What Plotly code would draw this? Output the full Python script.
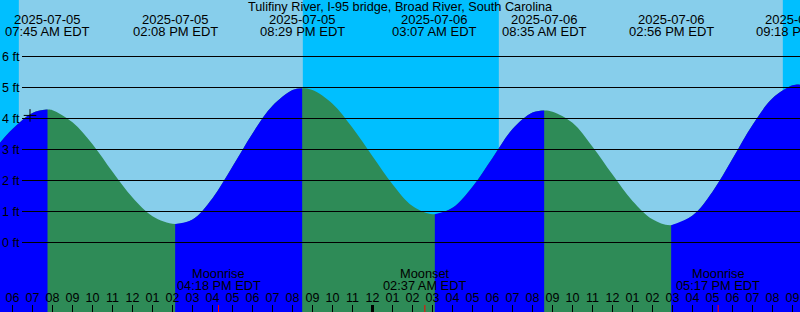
import plotly.graph_objects as go
import pandas as pd

# ---------------- data ----------------
title_text = "Tulifiny River, I-95 bridge, Broad River, South Carolina"
tz_label = "EDT"

range_start = "2025-07-05 05:22:30"
range_end = "2025-07-06 21:22:30"

# tide extremes (high / low)
tide_times = ["2025-07-05 07:45", "2025-07-05 14:08", "2025-07-05 20:29",
              "2025-07-06 03:07", "2025-07-06 08:35", "2025-07-06 14:56",
              "2025-07-06 21:18"]
tide_levels = [4.29, 0.60, 4.98, 0.91, 4.26, 0.56, 5.10]

# hourly water level readings (ft)
curve_times = [
    "2025-07-05 05:22:30",
    "2025-07-05 06:00", "2025-07-05 07:00", "2025-07-05 08:00", "2025-07-05 09:00",
    "2025-07-05 10:00", "2025-07-05 11:00", "2025-07-05 12:00", "2025-07-05 13:00",
    "2025-07-05 15:00", "2025-07-05 16:00", "2025-07-05 17:00",
    "2025-07-05 18:00", "2025-07-05 19:00", "2025-07-05 20:00", "2025-07-05 21:00",
    "2025-07-05 22:00", "2025-07-05 23:00",
    "2025-07-06 00:00", "2025-07-06 01:00", "2025-07-06 02:00",
    "2025-07-06 04:00", "2025-07-06 05:00", "2025-07-06 06:00", "2025-07-06 07:00",
    "2025-07-06 08:00", "2025-07-06 09:00", "2025-07-06 10:00", "2025-07-06 11:00",
    "2025-07-06 12:00", "2025-07-06 13:00", "2025-07-06 14:00",
    "2025-07-06 16:00", "2025-07-06 17:00", "2025-07-06 18:00", "2025-07-06 19:00",
    "2025-07-06 20:00", "2025-07-06 21:00",
    "2025-07-06 21:22:30",
]
curve_levels = [
    3.22,
    3.66, 4.18, 4.27, 3.88,
    3.17, 2.28, 1.45, 0.85,
    0.74, 1.43, 2.45,
    3.52, 4.41, 4.92, 4.92,
    4.48, 3.70,
    2.78, 1.88, 1.18,
    1.12, 1.80, 2.73, 3.66,
    4.19, 4.22, 3.86, 3.09,
    2.19, 1.34, 0.75,
    0.87, 1.64, 2.70, 3.79,
    4.65, 5.07,
    5.09,
]

sunrise_times = ["2025-07-05 06:19", "2025-07-06 06:19"]
sunset_times = ["2025-07-05 20:31", "2025-07-06 20:31"]

moon_events = ["Moonrise", "Moonset", "Moonrise"]
moon_times = ["2025-07-05 16:18", "2025-07-06 02:37", "2025-07-06 17:17"]

level_ticks = [0, 1, 2, 3, 4, 5, 6]
midnights = ["2025-07-06 00:00"]

marker_time = ["2025-07-05 06:52:30"]
marker_level = [4.10]

# ---------------- styling ----------------
W, H = 800, 312
DAY = "#87CEEB"
NIGHT = "#00BFFF"
RISING = "#0000FF"
FALLING = "#2E8B57"
FONT = "Liberation Sans, Arial, sans-serif"
Y_MIN, Y_MAX = -2.242, 7.823
BASE = -3.0


def ypaper(px):
    return 1 - px / H


def dt(values):
    return pd.to_datetime(pd.Series(values), format="mixed")


def font(size):
    return dict(family=FONT, size=size, color="black")


fig = go.Figure()

curve = pd.DataFrame({"t": dt(curve_times + tide_times),
                      "h": curve_levels + tide_levels}).sort_values("t").reset_index(drop=True)
t0, t1 = pd.Timestamp(range_start), pd.Timestamp(range_end)

# full curve (falling colour underneath everything)
fig.add_trace(go.Scatter(x=[t0, t1], y=[BASE, BASE], mode="lines",
                         line=dict(width=0), hoverinfo="skip"))
fig.add_trace(go.Scatter(x=curve.t, y=curve.h, mode="lines", fill="tonexty",
                         fillcolor=FALLING, line=dict(width=0, shape="spline"),
                         hoverinfo="skip"))

# rising segments (ending at a high tide)
ext_t = list(dt(tide_times))
n = len(tide_levels)
for k in range(n):
    nb = [tide_levels[j] for j in (k - 1, k + 1) if 0 <= j < n]
    is_high = all(tide_levels[k] > v for v in nb)
    if not is_high:
        continue
    a = t0 if k == 0 else ext_t[k - 1]
    b = t1 if k == n - 1 else ext_t[k]
    seg = curve[(curve.t >= a) & (curve.t <= b)]
    fig.add_trace(go.Scatter(x=[seg.t.iloc[0], seg.t.iloc[-1]], y=[BASE, BASE],
                             mode="lines", line=dict(width=0), hoverinfo="skip"))
    fig.add_trace(go.Scatter(x=seg.t, y=seg.h, mode="lines", fill="tonexty",
                             fillcolor=RISING, line=dict(width=0, shape="spline"),
                             hoverinfo="skip"))

# marker
fig.add_trace(go.Scatter(x=dt(marker_time), y=marker_level, mode="markers",
                         marker=dict(symbol="cross-thin", size=9,
                                     line=dict(width=1, color="black")),
                         hoverinfo="skip"))

shapes = []
# night bands
night_starts = [t0] + list(dt(sunset_times))
night_ends = list(dt(sunrise_times)) + [t1]
for a, b in zip(night_starts, night_ends):
    shapes.append(dict(type="rect", xref="x", yref="paper", x0=a, x1=b, y0=0, y1=1,
                       fillcolor=NIGHT, line=dict(width=0), layer="below"))
# level lines
for v in level_ticks:
    shapes.append(dict(type="line", xref="paper", yref="y", x0=22 / W, x1=1, y0=v, y1=v,
                       line=dict(color="black", width=1), layer="above"))
# midnight tick
for m in midnights:
    shapes.append(dict(type="line", xref="x", yref="paper", x0=m, x1=m, y0=0, y1=7 / H,
                       line=dict(color="black", width=3), layer="above"))
# moon ticks
for m in moon_times:
    shapes.append(dict(type="line", xref="x", yref="paper", x0=m, x1=m, y0=0, y1=7 / H,
                       line=dict(color="red", width=1), layer="above"))

ann = []
ann.append(dict(text=title_text, x=0.5, xref="paper", y=ypaper(7.2), yref="paper",
                xanchor="center", yanchor="middle", showarrow=False, font=font(12.7)))
for t in ext_t:
    ann.append(dict(text=t.strftime("%Y-%m-%d"), x=t, xref="x", y=ypaper(19.5), yref="paper",
                    xanchor="center", yanchor="middle", showarrow=False, font=font(13)))
    ann.append(dict(text=t.strftime("%I:%M %p ") + tz_label, x=t, xref="x", y=ypaper(31.3),
                    yref="paper", xanchor="center", yanchor="middle", showarrow=False,
                    font=font(13)))
for name, m in zip(moon_events, dt(moon_times)):
    ann.append(dict(text=name, x=m, xref="x", y=ypaper(273.3), yref="paper",
                    xanchor="center", yanchor="middle", showarrow=False, font=font(12.8)))
    ann.append(dict(text=m.strftime("%I:%M %p ") + tz_label, x=m, xref="x", y=ypaper(285.3),
                    yref="paper", xanchor="center", yanchor="middle", showarrow=False,
                    font=font(12.8)))
for v in level_ticks:
    ann.append(dict(text=f"{v} ft", x=0, xref="paper", y=v, yref="y",
                    xanchor="left", yanchor="middle", showarrow=False, font=font(12.5)))

fig.update_layout(
    width=W, height=H, margin=dict(l=0, r=0, t=0, b=0),
    plot_bgcolor=DAY, paper_bgcolor=DAY, showlegend=False,
    shapes=shapes, annotations=ann,
    xaxis=dict(type="date", range=[t0, t1], showgrid=False, zeroline=False, showline=False,
               ticks="inside", ticklen=7, tickwidth=1, tickcolor="black",
               tick0="2025-07-05 00:00", dtick=3600000, tickformat="%I",
               ticklabelposition="inside", tickfont=font(12.5), fixedrange=True),
    yaxis=dict(range=[Y_MIN, Y_MAX], showgrid=False, zeroline=False, showline=False,
               showticklabels=False, ticks="", fixedrange=True),
)

fig.write_html("out.html")
